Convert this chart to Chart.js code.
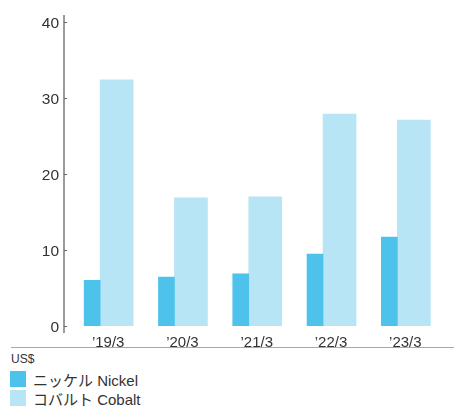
<!DOCTYPE html>
<html><head><meta charset="utf-8">
<script src="https://cdn.jsdelivr.net/npm/chart.js@4"></script>
<style>
html,body{margin:0;padding:0;background:#fff;}
#wrap{position:relative;width:454px;height:406px;overflow:hidden;font-family:"Liberation Sans",Arial,"Noto Sans CJK JP",sans-serif;color:#333;}
#cv{position:absolute;left:0;top:0;}
#sep{position:absolute;left:11px;right:0;top:347px;height:0;border-top:1px solid #a8a8a8;}
#unit{position:absolute;left:11px;top:352px;font-size:12px;line-height:14px;}
.lg{position:absolute;left:10px;height:16px;display:flex;align-items:center;font-size:15px;white-space:nowrap;}
.lg i{display:inline-block;width:16px;height:16px;margin-right:7px;flex:none;}
</style></head>
<body>
<div id="wrap">
  <canvas id="cv" width="454" height="352"></canvas>
  <div id="sep"></div>
  <div id="unit">US$</div>
  <div id="legend"></div>
</div>
<script>
const categories = ["’19/3","’20/3","’21/3","’22/3","’23/3"];
const nickel = [6.0, 6.45, 6.85, 9.45, 11.7];
const cobalt = [32.4, 16.85, 17.0, 27.9, 27.1];
const yTicks = [0, 10, 20, 30, 40];
const seriesNames = ["ニッケル Nickel", "コバルト Cobalt"];
const seriesColors = ["#4dc2ea", "#b8e5f5"];

const FONT = '"Liberation Sans", Arial, "Noto Sans CJK JP", sans-serif';

const axisPlugin = {
  id: 'axisLine',
  afterDraw(chart) {
    const ys = chart.scales.y;
    const ctx = chart.ctx;
    const x = 64;
    ctx.save();
    ctx.strokeStyle = '#666';
    ctx.lineWidth = 1.3;
    ctx.beginPath();
    ctx.moveTo(x, ys.getPixelForValue(yTicks[yTicks.length - 1]) - 7);
    ctx.lineTo(x, ys.getPixelForValue(yTicks[0]) + 7);
    ctx.stroke();
    ctx.lineWidth = 1;
    yTicks.forEach(v => {
      const py = Math.round(ys.getPixelForValue(v)) + 0.5;
      ctx.beginPath();
      ctx.moveTo(x, py);
      ctx.lineTo(x + 3, py);
      ctx.stroke();
    });
    ctx.restore();
  }
};

const chart = new Chart(document.getElementById('cv'), {
  type: 'bar',
  data: {
    labels: categories,
    datasets: [
      { label: seriesNames[0], data: nickel, backgroundColor: seriesColors[0], barThickness: 16, borderWidth: 0 },
      { label: seriesNames[1], data: cobalt, backgroundColor: seriesColors[1], barThickness: 33, borderWidth: 0 }
    ]
  },
  options: {
    responsive: false,
    animation: false,
    devicePixelRatio: 1,
    layout: { padding: { top: 22, right: 19.5, left: 0, bottom: 0 } },
    plugins: { legend: { display: false }, tooltip: { enabled: false } },
    scales: {
      x: {
        grid: { display: false, drawTicks: false },
        border: { display: false },
        ticks: { font: { family: FONT, size: 15 }, color: '#333', padding: 8, labelOffset: 8, maxRotation: 0, autoSkip: false },
        afterFit(s) { s.height = 26; }
      },
      y: {
        min: 0, max: 40,
        grid: { display: false, drawTicks: false },
        border: { display: false },
        afterBuildTicks(s) { s.ticks = yTicks.map(v => ({ value: v })); },
        ticks: { font: { family: FONT, size: 15.5 }, color: '#333', padding: 4, labelOffset: 2 },
        afterFit(s) { s.width = 63; }
      }
    }
  },
  plugins: [axisPlugin]
});

const legend = document.getElementById('legend');
chart.data.datasets.forEach((ds, i) => {
  const d = document.createElement('div');
  d.className = 'lg';
  d.style.top = (371 + i * 19) + 'px';
  const sw = document.createElement('i');
  sw.style.background = ds.backgroundColor;
  d.appendChild(sw);
  d.appendChild(document.createTextNode(ds.label));
  legend.appendChild(d);
});
</script>
</body></html>
